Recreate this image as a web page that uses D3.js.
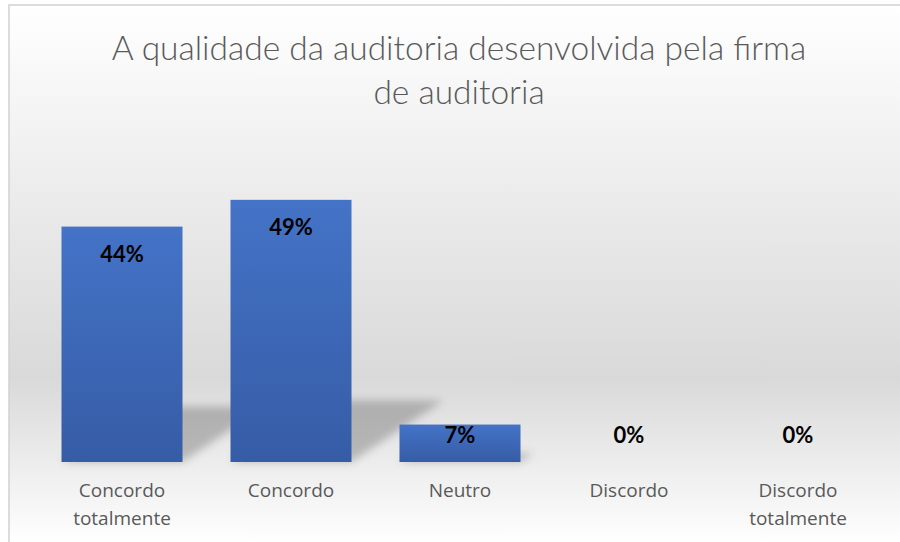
<!DOCTYPE html>
<html>
<head>
<meta charset="utf-8">
<script src="https://cdn.jsdelivr.net/npm/d3@7"></script>
<style>
  body { margin: 0; background: #fff; }
  svg { display: block; }
</style>
</head>
<body>
<div id="grafico"></div>
<script>
// dados
let categorias = ["Concordo totalmente", "Concordo", "Neutro", "Discordo", "Discordo totalmente"];
let valores = [44, 49, 7, 0, 0];
let titulo = ["A qualidade da auditoria desenvolvida pela firma", "de auditoria"];

let width = 900,
    height = 542,
    base = 462;

let svg = d3.select("#grafico")
  .append("svg")
  .attr("width", width)
  .attr("height", height);

let defs = svg.append("defs");

// fundo com degradê vertical
let fundo = defs.append("linearGradient")
  .attr("id", "fundo")
  .attr("gradientUnits", "userSpaceOnUse")
  .attr("x1", 0).attr("y1", 5)
  .attr("x2", 0).attr("y2", 545);
fundo.append("stop").attr("offset", 0).attr("stop-color", "#ffffff");
fundo.append("stop").attr("offset", 0.69).attr("stop-color", "#d9d9d9");
fundo.append("stop").attr("offset", 1).attr("stop-color", "#ffffff");

let barraGrad = defs.append("linearGradient")
  .attr("id", "barra")
  .attr("x1", 0).attr("y1", 0)
  .attr("x2", 0).attr("y2", 1);
barraGrad.append("stop").attr("offset", 0).attr("stop-color", "#4473c7");
barraGrad.append("stop").attr("offset", 1).attr("stop-color", "#365ca6");

defs.append("filter")
  .attr("id", "blur")
  .attr("x", "-30%").attr("y", "-60%")
  .attr("width", "160%").attr("height", "220%")
  .append("feGaussianBlur")
  .attr("stdDeviation", 4);

svg.append("rect")
  .attr("x", 9).attr("y", 5)
  .attr("width", width + 20).attr("height", height + 20)
  .attr("fill", "url(#fundo)")
  .attr("stroke", "#d4d4d4")
  .attr("stroke-width", 1.6);

let x = d3.scaleBand()
  .domain(categorias)
  .range([13.5, 906.5])
  .padding(0.284);

let y = d3.scaleLinear()
  .domain([0, 60])
  .range([base, 141]);

// título
svg.append("text")
  .attr("text-anchor", "middle")
  .style("font-family", "Lato, 'Open Sans', sans-serif")
  .style("font-weight", 300)
  .style("font-size", "33.5px")
  .style("fill", "#595959")
  .selectAll("tspan")
  .data(titulo)
  .enter()
  .append("tspan")
  .attr("x", 459)
  .attr("y", (d, i) => 60 + i * 44)
  .text(d => d);

// sombras em perspectiva
svg.append("g")
  .attr("filter", "url(#blur)")
  .selectAll("polygon")
  .data(valores.filter(v => v > 0).map((v, i) => ({ cat: categorias[i], v: v })))
  .enter()
  .append("polygon")
  .attr("points", d => {
    let x0 = x(d.cat), x1 = x0 + x.bandwidth();
    let h = base - y(d.v);
    let sh = h * 0.235, dx = h * 0.35;
    return [[x0, base], [x1, base], [x1 + dx, base - sh], [x0 + dx, base - sh]].join(" ");
  })
  .attr("fill", "#000")
  .attr("fill-opacity", 0.22);

// barras
svg.append("g")
  .selectAll("rect")
  .data(valores)
  .enter()
  .append("rect")
  .attr("x", (d, i) => x(categorias[i]))
  .attr("y", d => y(d))
  .attr("width", x.bandwidth())
  .attr("height", d => base - y(d))
  .attr("fill", "url(#barra)");

// rótulos de dados
svg.append("g")
  .selectAll("text")
  .data(valores)
  .enter()
  .append("text")
  .attr("x", (d, i) => x(categorias[i]) + x.bandwidth() / 2)
  .attr("y", d => Math.min(y(d) + 35, base - 19))
  .attr("text-anchor", "middle")
  .style("font-family", "Lato, 'Open Sans', sans-serif")
  .style("font-weight", 700)
  .style("font-size", "22px")
  .style("fill", "#000")
  .text(d => d + "%");

// rótulos das categorias (quebra de linha quando não cabe)
let rotulos = svg.append("g")
  .selectAll("text")
  .data(categorias)
  .enter()
  .append("text")
  .attr("text-anchor", "middle")
  .style("font-family", "'Open Sans', Lato, sans-serif")
  .style("font-size", "19px")
  .style("fill", "#595959");

rotulos.each(function(d) {
  let t = d3.select(this);
  let cx = x(d) + x.bandwidth() / 2;
  t.text(d);
  let linhas = this.getComputedTextLength() > x.step() - 10 ? d.split(" ") : [d];
  t.text(null);
  linhas.forEach((l, i) => {
    t.append("tspan")
      .attr("x", cx)
      .attr("y", 497 + i * 28)
      .text(l);
  });
});
</script>
</body>
</html>
